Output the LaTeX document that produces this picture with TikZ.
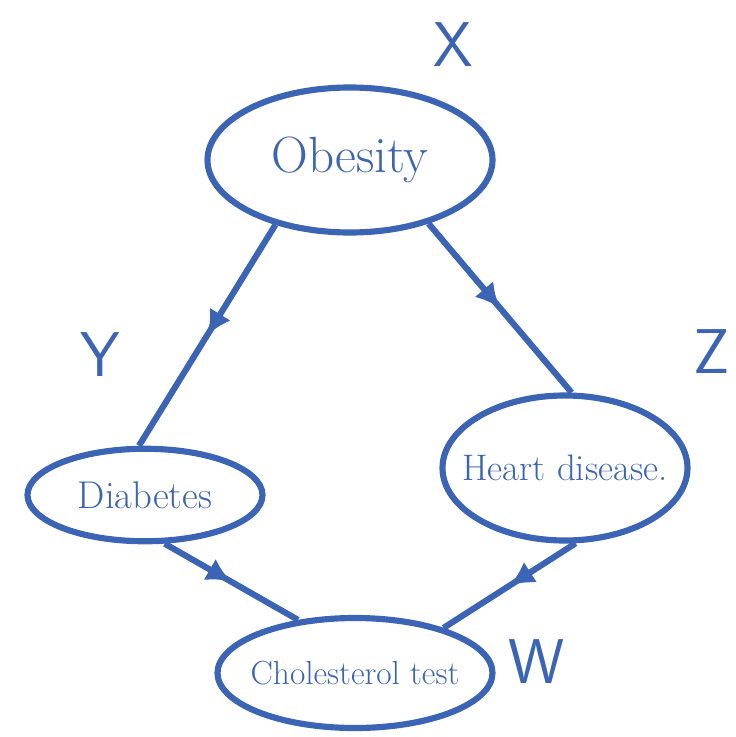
\documentclass[tikz,border=0pt]{standalone}
\usepackage{xcolor}
\usepackage{tikz}
\usetikzlibrary{shapes.geometric}
\usetikzlibrary{arrows.meta,decorations.markings}

\definecolor{pen}{RGB}{60,100,180}

\tikzset{
  blob/.style={ellipse, draw=pen, line width=3.5pt, text=pen,
    inner xsep=-0.5cm, inner ysep=0pt},
  link/.style={draw=pen, line width=3.5pt,
    postaction={decorate, decoration={markings,
      mark=at position 0.5 with {\arrow[pen]{Latex[length=14pt,width=14pt]}}}}},
  tag/.style={text=pen, font=\fontsize{36}{38}\selectfont\sffamily}
}

\begin{document}
\begin{tikzpicture}[x=0.2mm, y=-0.2mm]
\useasboundingbox (0,0) rectangle (735,737);

\node[blob, minimum width=5.7cm, minimum height=2.9cm,
    font=\fontsize{29}{31}\selectfont] (obes) at (350,160) {Obesity};

\node[blob, minimum width=4.7cm, minimum height=1.85cm,
    font=\fontsize{22}{24}\selectfont] (diab) at (145,495) {Diabetes};

\node[blob, minimum width=4.9cm, minimum height=2.9cm,
    font=\fontsize{21}{23}\selectfont] (heart) at (565,468) {Heart disease.};

\node[blob, minimum width=5.5cm, minimum height=2.2cm,
    font=\fontsize{19}{21}\selectfont] (chol) at (355,673) {Cholesterol test};

\node[tag] (x) at (453,45) {X};
\node[tag] (y) at (100,355) {Y};
\node[tag] (z) at (712,352) {Z};
\node[tag] (w) at (537,662) {W};

\path[link] (obes.-139) -- (diab.97);
\path[link] (obes.-39) -- (heart.85);
\path[link] (diab.-68) -- (chol.137);
\path[link] (heart.-82) -- (chol.27);

\end{tikzpicture}
\end{document}
